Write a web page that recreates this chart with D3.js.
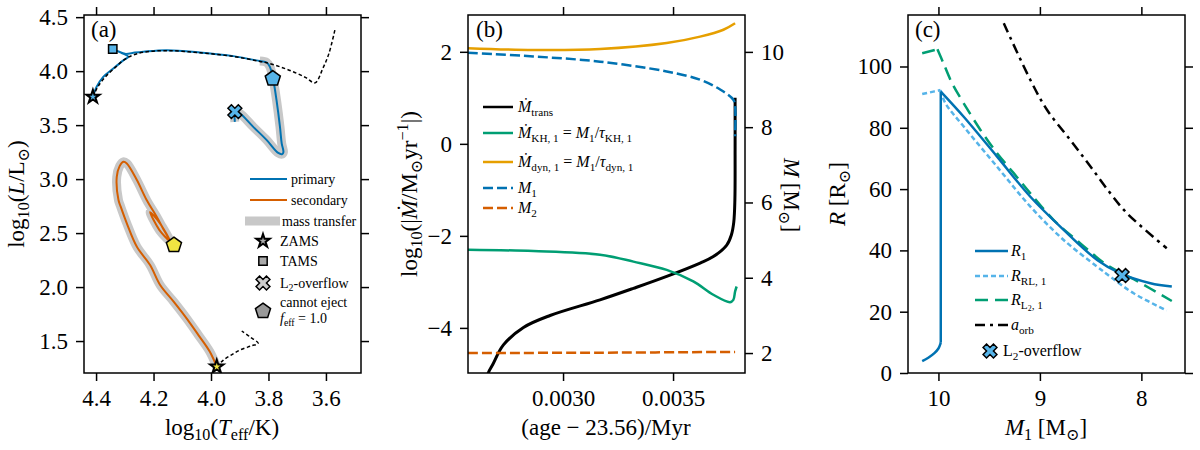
<!DOCTYPE html>
<html>
<head>
<meta charset="utf-8">
<script src="https://cdn.jsdelivr.net/npm/d3@7"></script>
<style>
  body { margin: 0; background: #fff; }
  svg text { font-family: 'Liberation Serif', 'DejaVu Serif', serif; white-space: pre; fill: #000; }
</style>
</head>
<body>
<div id="chart"></div>
<script>
// ---- panel (a): HR diagram, [log Teff, log L]
const primaryTrack = [
  [4.411, 3.762], [4.398, 3.855], [4.375, 3.947], [4.340, 4.025], [4.305, 4.100], [4.288, 4.133],
  [4.312, 4.170], [4.342, 4.205], [4.322, 4.182], [4.299, 4.160], [4.265, 4.172], [4.235, 4.180],
  [4.154, 4.194], [4.038, 4.173], [3.922, 4.139], [3.830, 4.093], [3.806, 4.080], [3.795, 4.040],
  [3.784, 3.930], [3.772, 3.731], [3.760, 3.484], [3.754, 3.330], [3.748, 3.250], [3.752, 3.232],
  [3.766, 3.242], [3.806, 3.361], [3.853, 3.484], [3.899, 3.608], [3.915, 3.625], [3.917, 3.530]
];
const primaryMassTransfer = primaryTrack.slice(15);
const primarySingle = [
  [4.411, 3.762], [4.395, 3.850], [4.370, 3.940], [4.335, 4.030], [4.300, 4.110], [4.270, 4.150],
  [4.235, 4.175], [4.154, 4.190], [4.038, 4.170], [3.922, 4.136], [3.830, 4.090], [3.806, 4.078],
  [3.760, 4.040], [3.714, 3.994], [3.670, 3.940], [3.638, 3.892], [3.610, 4.030], [3.590, 4.160],
  [3.569, 4.380]
];
const secondaryTrack = [
  [3.980, 1.262], [4.004, 1.401], [4.045, 1.560], [4.085, 1.710], [4.130, 1.865], [4.177, 2.019],
  [4.212, 2.204], [4.258, 2.373], [4.293, 2.590], [4.315, 2.750], [4.322, 2.806], [4.328, 3.021],
  [4.318, 3.120], [4.305, 3.160], [4.293, 3.145], [4.258, 2.991], [4.224, 2.806], [4.189, 2.651],
  [4.160, 2.509], [4.143, 2.435], [4.180, 2.600], [4.212, 2.694], [4.180, 2.530], [4.150, 2.440],
  [4.129, 2.389]
];
const secondarySingle = [
  [3.980, 1.262], [3.957, 1.324], [3.930, 1.370], [3.899, 1.417], [3.860, 1.455], [3.836, 1.479],
  [3.865, 1.540], [3.893, 1.593]
];
const primaryZAMS = [4.411, 3.762];
const primaryTAMS = [4.342, 4.205];
const primaryL2 = [3.917, 3.625];
const primaryNoEject = [3.785, 3.932];
const secondaryZAMS = [3.980, 1.262];
const secondaryNoEject = [4.129, 2.389];
const ticksTeff = [4.4, 4.2, 4.0, 3.8, 3.6];
const ticksLum = [1.5, 2.0, 2.5, 3.0, 3.5, 4.0, 4.5];

// ---- panel (b): rates vs (age - 23.56)/Myr
const mdotTrans = [
  [0.002650, -5.20], [0.002660, -4.98], [0.002680, -4.80], [0.002729, -4.37], [0.002820, -3.99],
  [0.002941, -3.73], [0.003168, -3.39], [0.003320, -3.14], [0.003471, -2.88], [0.003623, -2.59],
  [0.003683, -2.45], [0.003744, -2.20], [0.003765, -1.98], [0.003776, -1.70], [0.003781, -1.22],
  [0.003782, -0.13], [0.003782, 1.00]
];
const mdotKH = [
  [0.002568, -2.30], [0.002865, -2.33], [0.003168, -2.41], [0.003320, -2.56], [0.003471, -2.74],
  [0.003592, -2.99], [0.003683, -3.28], [0.003759, -3.44], [0.003774, -3.39], [0.003782, -3.21],
  [0.003789, -3.10]
];
const mdotDyn = [
  [0.002568, 2.08], [0.002865, 2.04], [0.003168, 2.06], [0.003471, 2.19], [0.003623, 2.33],
  [0.003729, 2.48], [0.003782, 2.62]
];
const massPrimary = [
  [0.002568, 9.98], [0.002865, 9.88], [0.003168, 9.74], [0.003471, 9.48], [0.003623, 9.26],
  [0.003714, 9.00], [0.003774, 8.73], [0.003782, 8.55], [0.003782, 7.76]
];
const massSecondary = [[0.002568, 2.00], [0.003168, 2.01], [0.003782, 2.03]];
const ticksAge = [0.0030, 0.0035];
const ticksMdot = [-4, -2, 0, 2];
const ticksMass = [2, 4, 6, 8, 10];

// ---- panel (c): radii vs M1
const radiusPrimary = [
  [10.16, 3.9], [10.10, 5.0], [10.04, 6.5], [10.00, 8.0], [9.98, 9.6], [9.977, 10.0], [9.977, 91.8],
  [9.751, 83.6], [9.422, 70.6], [9.094, 57.5], [8.766, 46.7], [8.436, 36.9], [8.207, 32.5],
  [7.911, 29.3], [7.700, 28.2]
];
const radiusRL = [
  [10.16, 91.0], [10.05, 91.8], [9.98, 92.3], [9.931, 88.0], [9.751, 80.4], [9.422, 67.3],
  [9.094, 54.3], [8.766, 43.4], [8.436, 34.7], [8.305, 31.4], [8.076, 26.0], [7.75, 20.4]
];
const radiusL2 = [
  [10.16, 104.3], [10.01, 105.6], [9.95, 101.0], [9.865, 94.5], [9.751, 88.0], [9.586, 79.3],
  [9.422, 71.7], [9.258, 65.2], [9.094, 58.6], [8.864, 49.9], [8.601, 42.3], [8.338, 35.2],
  [8.076, 30.6], [7.70, 23.5]
];
const orbitSep = [
  [9.356, 114.1], [9.094, 95.6], [8.929, 85.8], [8.70, 76.0], [8.50, 67.3], [8.305, 58.6],
  [8.141, 52.1], [7.75, 40.7]
];
const l2Overflow = [8.19, 31.8];
const ticksM1 = [10, 9, 8];
const ticksR = [0, 20, 40, 60, 80, 100];

// colours
const cBlue = '#0072B2', cVerm = '#D55E00', cGreen = '#009E73', cOrange = '#E69F00',
      cSky = '#56B4E9', cYellow = '#F0E442', cGray = '#c8c8c8';

const plotTop = 15, plotBottom = 373;
const svg = d3.select('#chart').append('svg').attr('width', 1200).attr('height', 450);

// text with italic / sub / sup parts
function rich(text, parts, fs) {
  let shift = 0;
  parts.forEach(p => {
    if (typeof p === 'string') p = { t: p };
    const target = p.s === 'sub' ? fs * 0.22 : p.s === 'sub2' ? fs * 0.36 : p.s === 'sup' ? -fs * 0.38 : 0;
    text.append('tspan')
      .attr('dy', target - shift)
      .attr('font-size', p.s === 'sub2' ? fs * 0.5 : p.s ? fs * 0.7 : fs)
      .attr('font-style', p.i ? 'italic' : 'normal')
      .text(p.t);
    shift = target;
  });
  return text;
}

function label(x, y, parts, fs, anchor, rot) {
  const t = svg.append('text')
    .attr('text-anchor', anchor || 'start')
    .attr('font-size', fs)
    .attr('transform', `translate(${x},${y})` + (rot ? ` rotate(${rot})` : ''));
  return rich(t, parts, fs);
}

// pentagon marker
const symbolPentagon = {
  draw(ctx, size) {
    const r = Math.sqrt(size / 2.378);
    for (let i = 0; i < 5; i++) {
      const a = -Math.PI / 2 + i * 2 * Math.PI / 5;
      i ? ctx.lineTo(r * Math.cos(a), r * Math.sin(a)) : ctx.moveTo(r * Math.cos(a), r * Math.sin(a));
    }
    ctx.closePath();
  }
};
const markers = {
  star: { type: d3.symbolStar, size: 55, rot: 0, sw: 2 },
  square: { type: d3.symbolSquare, size: 70, rot: 0, sw: 1.5 },
  x: { type: d3.symbolCross, size: 120, rot: 45, sw: 1.5 },
  pent: { type: symbolPentagon, size: 150, rot: 0, sw: 1.5 }
};
function marker(g, kind, px, py, fill) {
  const m = markers[kind];
  g.append('path')
    .attr('d', d3.symbol().type(m.type).size(m.size)())
    .attr('transform', `translate(${px},${py}) rotate(${m.rot})`)
    .attr('fill', fill)
    .attr('stroke', '#000')
    .attr('stroke-width', m.sw)
    .attr('stroke-linejoin', 'miter');
}

function makePanel(name, left, right, xDomain, yDomain) {
  const x = d3.scaleLinear().domain(xDomain).range([left, right]);
  const y = d3.scaleLinear().domain(yDomain).range([plotBottom, plotTop]);
  svg.append('clipPath').attr('id', 'clip-' + name)
    .append('rect').attr('x', left).attr('y', plotTop)
    .attr('width', right - left).attr('height', plotBottom - plotTop);
  const plot = svg.append('g').attr('clip-path', `url(#clip-${name})`);
  return { name, left, right, x, y, plot };
}

function styleAxis(sel) {
  sel.attr('font-family', null).attr('font-size', 23);
  sel.select('.domain').remove();
  sel.selectAll('.tick line').attr('stroke', '#000').attr('stroke-width', 1.5);
  sel.selectAll('.tick text').attr('fill', '#000');
}

function drawAxes(p, xTicks, yTicks, xFmt, yFmt, rightScale) {
  const tk = 8, pad = 8;
  svg.append('g').attr('transform', `translate(0,${plotBottom})`)
    .call(d3.axisBottom(p.x).tickValues(xTicks).tickFormat(xFmt).tickSize(tk).tickPadding(pad + 1))
    .call(styleAxis);
  svg.append('g').attr('transform', `translate(0,${plotTop})`)
    .call(d3.axisTop(p.x).tickValues(xTicks).tickFormat('').tickSize(tk))
    .call(styleAxis);
  svg.append('g').attr('transform', `translate(${p.left},0)`)
    .call(d3.axisLeft(p.y).tickValues(yTicks).tickFormat(yFmt).tickSize(tk).tickPadding(pad))
    .call(styleAxis);
  const right = svg.append('g').attr('transform', `translate(${p.right},0)`);
  if (rightScale) {
    right.call(d3.axisRight(rightScale.scale).tickValues(rightScale.ticks).tickFormat(d3.format('d')).tickSize(tk).tickPadding(pad));
  } else {
    right.call(d3.axisRight(p.y).tickValues(yTicks).tickFormat('').tickSize(tk));
  }
  right.call(styleAxis);
  svg.append('rect')
    .attr('x', p.left).attr('y', plotTop)
    .attr('width', p.right - p.left).attr('height', plotBottom - plotTop)
    .attr('fill', 'none').attr('stroke', '#000').attr('stroke-width', 1.5);
}

const smooth = d3.curveCatmullRom.alpha(0.5);
function drawLine(g, data, x, y, color, w, dash) {
  g.append('path')
    .datum(data)
    .attr('d', d3.line().curve(smooth).x(d => x(d[0])).y(d => y(d[1])))
    .attr('fill', 'none')
    .attr('stroke', color)
    .attr('stroke-width', w)
    .attr('stroke-dasharray', dash || null)
    .attr('stroke-linejoin', 'round');
}

// ================= panel (a)
const pa = makePanel('a', 84, 361, [4.442, 3.478], [1.204, 4.52]);
drawLine(pa.plot, primaryMassTransfer, pa.x, pa.y, cGray, 9);
drawLine(pa.plot, secondaryTrack, pa.x, pa.y, cGray, 9);
drawLine(pa.plot, primaryTrack, pa.x, pa.y, cBlue, 2);
drawLine(pa.plot, secondaryTrack, pa.x, pa.y, cVerm, 2);
drawLine(pa.plot, primarySingle, pa.x, pa.y, '#000', 1.5, '3.5,2.5');
drawLine(pa.plot, secondarySingle, pa.x, pa.y, '#000', 1.5, '3.5,2.5');
marker(pa.plot, 'square', pa.x(primaryTAMS[0]), pa.y(primaryTAMS[1]), cSky);
marker(pa.plot, 'pent', pa.x(primaryNoEject[0]), pa.y(primaryNoEject[1]), cSky);
marker(pa.plot, 'x', pa.x(primaryL2[0]), pa.y(primaryL2[1]), cSky);
marker(pa.plot, 'star', pa.x(primaryZAMS[0]), pa.y(primaryZAMS[1]), cSky);
marker(pa.plot, 'pent', pa.x(secondaryNoEject[0]), pa.y(secondaryNoEject[1]), cYellow);
marker(pa.plot, 'star', pa.x(secondaryZAMS[0]), pa.y(secondaryZAMS[1]), cYellow);
drawAxes(pa, ticksTeff, ticksLum, d3.format('.1f'), d3.format('.1f'));

// legend (a)
const la = svg.append('g');
[['primary', cBlue, 2, 179, 250, 287, 291], ['secondary', cVerm, 2, 200, 250, 287, 291],
 ['mass transfer', cGray, 9, 221, 245, 280, 282]].forEach(r => {
  la.append('line').attr('x1', r[4]).attr('x2', r[5]).attr('y1', r[3]).attr('y2', r[3])
    .attr('stroke', r[1]).attr('stroke-width', r[2]);
  label(r[6], r[3] + 5, [r[0]], 14);
});
marker(la, 'star', 263, 241, '#aaa'); label(280, 246, ['ZAMS'], 14);
marker(la, 'square', 263, 261, '#aaa'); label(280, 266, ['TAMS'], 14);
marker(la, 'x', 263, 283, '#ccc'); label(280, 288, ['L', { t: '2', s: 'sub' }, '-overflow'], 14);
marker(la, 'pent', 263, 311, '#999');
label(280, 307, ['cannot eject'], 14);
label(280, 323, [{ t: 'f', i: 1 }, { t: 'eff', s: 'sub' }, ' = 1.0'], 14);

label(91, 37, ['(a)'], 23);
label(222, 435, ['log', { t: '10', s: 'sub' }, '(', { t: 'T', i: 1 }, { t: 'eff', s: 'sub' }, '/K)'], 23, 'middle');
label(24, 194, ['log', { t: '10', s: 'sub' }, '(', { t: 'L', i: 1 }, '/L', { t: '⊙', s: 'sub' }, ')'], 23, 'middle', -90);

// ================= panel (b)
const pb = makePanel('b', 468, 745, [0.002568, 0.003827], [-4.98, 2.80]);
const yMass = d3.scaleLinear().domain([1.47, 10.98]).range([plotBottom, plotTop]);
drawLine(pb.plot, mdotTrans, pb.x, pb.y, '#000', 3);
drawLine(pb.plot, mdotKH, pb.x, pb.y, cGreen, 2.5);
drawLine(pb.plot, mdotDyn, pb.x, pb.y, cOrange, 2.5);
drawLine(pb.plot, massPrimary, pb.x, yMass, cBlue, 2.5, '10,4');
drawLine(pb.plot, massSecondary, pb.x, yMass, cVerm, 2.5, '10,4');
drawAxes(pb, ticksAge, ticksMdot, d3.format('.4f'), d3.format('d'), { scale: yMass, ticks: ticksMass });

const lb = svg.append('g');
[
  ['#000', null, 107, [{ t: 'Ṁ', i: 1 }, { t: 'trans', s: 'sub' }]],
  [cGreen, null, 133, [{ t: 'Ṁ', i: 1 }, { t: 'KH, 1', s: 'sub' }, ' = ', { t: 'M', i: 1 }, { t: '1', s: 'sub' }, '/', { t: 'τ', i: 1 }, { t: 'KH, 1', s: 'sub' }]],
  [cOrange, null, 162, [{ t: 'Ṁ', i: 1 }, { t: 'dyn, 1', s: 'sub' }, ' = ', { t: 'M', i: 1 }, { t: '1', s: 'sub' }, '/', { t: 'τ', i: 1 }, { t: 'dyn, 1', s: 'sub' }]],
  [cBlue, '10,4', 188, [{ t: 'M', i: 1 }, { t: '1', s: 'sub' }]],
  [cVerm, '10,4', 208, [{ t: 'M', i: 1 }, { t: '2', s: 'sub' }]]
].forEach(r => {
  lb.append('line').attr('x1', 483).attr('x2', 513).attr('y1', r[2]).attr('y2', r[2])
    .attr('stroke', r[0]).attr('stroke-width', 2.5).attr('stroke-dasharray', r[1]);
  label(518, r[2] + 5, r[3], 16);
});

label(476, 37, ['(b)'], 23);
label(606, 435, ['(age − 23.56)/Myr'], 23, 'middle');
label(417, 194, ['log', { t: '10', s: 'sub' }, '(|', { t: 'Ṁ', i: 1 }, '/M', { t: '⊙', s: 'sub' }, 'yr', { t: '−1', s: 'sup' }, '|)'], 23, 'middle', -90);
label(784, 195, [{ t: 'M', i: 1 }, ' [M', { t: '⊙', s: 'sub' }, ']'], 23, 'middle', 90);

// ================= panel (c)
// the curves have sharp corners near M1 = 10, so each is drawn in two smooth pieces
const pc = makePanel('c', 908, 1185, [10.30, 7.57], [0, 116.8]);
drawLine(pc.plot, radiusRL.slice(0, 3), pc.x, pc.y, cSky, 2.5, '5,3');
drawLine(pc.plot, radiusRL.slice(2), pc.x, pc.y, cSky, 2.5, '5,3');
drawLine(pc.plot, radiusL2.slice(0, 2), pc.x, pc.y, cGreen, 2.5, '13,7');
drawLine(pc.plot, radiusL2.slice(1), pc.x, pc.y, cGreen, 2.5, '13,7');
drawLine(pc.plot, orbitSep, pc.x, pc.y, '#000', 2.5, '10,5,3,5');
drawLine(pc.plot, radiusPrimary.slice(0, 6), pc.x, pc.y, cBlue, 2.5);
drawLine(pc.plot, radiusPrimary.slice(5, 7), pc.x, pc.y, cBlue, 2.5);
drawLine(pc.plot, radiusPrimary.slice(6), pc.x, pc.y, cBlue, 2.5);
marker(pc.plot, 'x', pc.x(l2Overflow[0]), pc.y(l2Overflow[1]), cSky);
drawAxes(pc, ticksM1, ticksR, d3.format('d'), d3.format('d'));

const lc = svg.append('g');
[
  [cBlue, null, 251, [{ t: 'R', i: 1 }, { t: '1', s: 'sub' }]],
  [cSky, '5,3', 276, [{ t: 'R', i: 1 }, { t: 'RL, 1', s: 'sub' }]],
  [cGreen, '13,7', 300, [{ t: 'R', i: 1 }, { t: 'L', s: 'sub' }, { t: '2', s: 'sub2' }, { t: ', 1', s: 'sub' }]],
  ['#000', '10,5,3,5', 325, [{ t: 'a', i: 1 }, { t: 'orb', s: 'sub' }]]
].forEach(r => {
  lc.append('line').attr('x1', 975).attr('x2', 1008).attr('y1', r[2]).attr('y2', r[2])
    .attr('stroke', r[0]).attr('stroke-width', 2.5).attr('stroke-dasharray', r[1]);
  label(1011, r[2] + 5, r[3], 16);
});
marker(lc, 'x', 990, 351, cSky);
label(1003, 356, ['L', { t: '2', s: 'sub' }, '-overflow'], 16);

label(915, 37, ['(c)'], 23);
label(1046, 435, [{ t: 'M', i: 1 }, { t: '1', s: 'sub' }, ' [M', { t: '⊙', s: 'sub' }, ']'], 23, 'middle');
label(845, 194, [{ t: 'R', i: 1 }, ' [R', { t: '⊙', s: 'sub' }, ']'], 23, 'middle', -90);
</script>
</body>
</html>
